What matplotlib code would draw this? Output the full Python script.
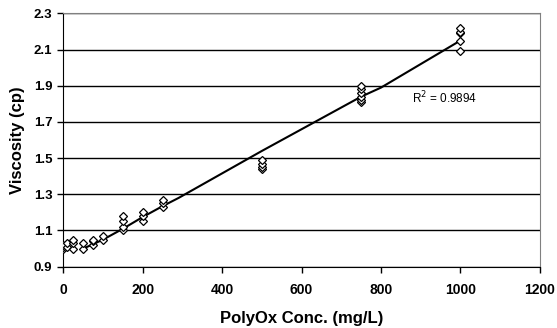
import numpy as np
import matplotlib.pyplot as plt

plt.rcParams['font.family'] = ['Liberation Sans', 'DejaVu Sans']

# measured viscosity at each PolyOx concentration (repeat readings)
conc = [0, 0, 0, 10, 10, 25, 25, 25, 50, 50, 75, 75, 75, 100, 100,
        150, 150, 150, 150, 200, 200, 200, 250, 250, 250,
        500, 500, 500, 500, 750, 750, 750, 750, 750, 750,
        1000, 1000, 1000, 1000, 1000]
visc = [1.00, 1.01, 1.02, 1.01, 1.03, 1.00, 1.03, 1.05, 1.00, 1.03,
        1.02, 1.04, 1.05, 1.05, 1.07,
        1.10, 1.12, 1.15, 1.18, 1.15, 1.18, 1.20, 1.23, 1.25, 1.27,
        1.44, 1.45, 1.47, 1.49, 1.81, 1.82, 1.84, 1.86, 1.88, 1.90,
        2.09, 2.15, 2.19, 2.20, 2.22]

# fitted trend
trend_x = [50, 100, 150, 200, 250, 290, 500, 750, 800, 1000]
trend_y = [1.00, 1.05, 1.11, 1.175, 1.235, 1.28, 1.54, 1.84, 1.89, 2.15]
r_squared = 0.9894

fig = plt.figure(figsize=(5.57, 3.28), dpi=100)
ax = fig.add_axes([0.114, 0.187, 0.855, 0.772])

ax.plot(trend_x, trend_y, color='black', lw=1.5, zorder=3)
ax.plot(conc, visc, ls='none', marker='D', ms=4.3, mfc='white', mec='black',
        mew=0.9, zorder=4)

ax.set_xlim(0, 1200)
ax.set_ylim(0.9, 2.3)
ax.set_xticks(np.arange(0, 1201, 200))
ax.set_yticks(np.round(np.arange(0.9, 2.31, 0.2), 1))
ax.yaxis.grid(True, color='black', lw=1)
ax.set_axisbelow(True)

for side in ['top', 'right']:
    ax.spines[side].set_color('#808080')
for side in ['left', 'bottom']:
    ax.spines[side].set_color('black')

ax.tick_params(axis='both', direction='out', length=4, width=1)
ax.tick_params(axis='y', labelsize=9.5, pad=4)
ax.tick_params(axis='x', labelsize=10, pad=8)
for lab in ax.get_xticklabels() + ax.get_yticklabels():
    lab.set_fontweight('bold')

ax.set_xlabel('PolyOx Conc. (mg/L)', fontsize=12, fontweight='bold', labelpad=10)
ax.set_ylabel('Viscosity (cp)', fontsize=12, fontweight='bold', labelpad=6)

ax.text(877, 1.83, f'R$^2$ = {r_squared}', fontsize=8.5, va='center', ha='left')

fig.savefig('out.png', dpi=100)
